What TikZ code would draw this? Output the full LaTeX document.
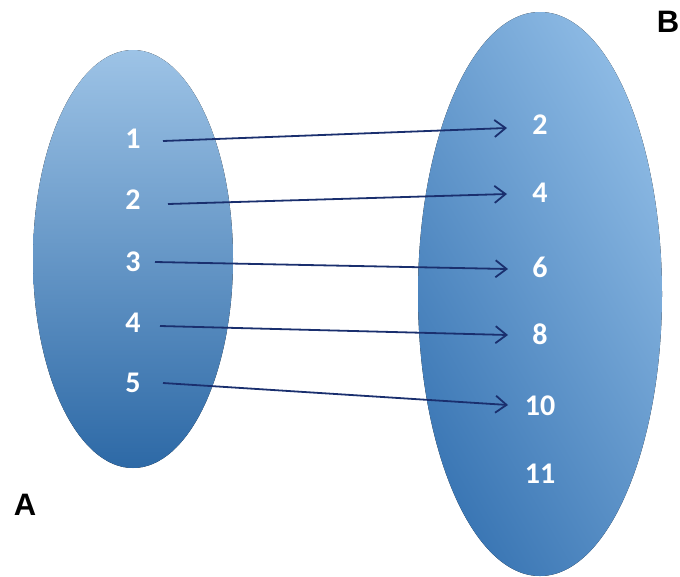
\documentclass[tikz,border=0pt]{standalone}
\usepackage{fontspec}
\setmainfont{Carlito}
\newfontfamily\arialf{Liberation Sans}
\usetikzlibrary{arrows.meta}
\definecolor{arrowc}{HTML}{1A2F6E}
\definecolor{lefttop}{HTML}{9DC3E6}
\definecolor{leftmid}{HTML}{6AA2DA}
\definecolor{leftbot}{HTML}{2D69A6}
\definecolor{rightlight}{HTML}{8DBAE4}
\definecolor{rightmid}{HTML}{5E9CD6}
\definecolor{rightdark}{HTML}{3A76B4}
\tikzset{
  num/.style={text=white, font=\fontsize{30}{30}\selectfont\bfseries, inner sep=0pt},
  setlbl/.style={text=black, font=\arialf\fontsize{31}{31}\selectfont\bfseries, inner sep=0pt},
  mapar/.style={draw=arrowc, line width=1.8pt, -{Straight Barb[length=11pt, width=17pt, line width=1.8pt]}, shorten <=0pt}
}
\begin{document}
\begin{tikzpicture}[x=1pt,y=-1pt]
\useasboundingbox (0,0) rectangle (680,576);
\fill[top color=lefttop, middle color=leftmid, bottom color=leftbot] (133,259) ellipse [x radius=100, y radius=209];
\fill[shading=axis, left color=rightlight, middle color=rightmid, right color=rightdark, shading angle=-60] (540,294) ellipse [x radius=122, y radius=282];
\node[num] (a1) at (133,139) {1};
\node[num] (a2) at (133,200) {2};
\node[num] (a3) at (133,262) {3};
\node[num] (a4) at (133,323) {4};
\node[num] (a5) at (133,383) {5};
\node[num] (b2) at (540,125) {2};
\node[num] (b4) at (540,193) {4};
\node[num] (b6) at (540,267) {6};
\node[num] (b8) at (540,334) {8};
\node[num] (b10) at (540,406) {10};
\node[num] (b11) at (540,474) {11};
\node[setlbl] (A) at (25,505) {A};
\node[setlbl] (B) at (668,22) {B};
\coordinate (s1) at (163,141); \coordinate (e1) at (507,128);
\coordinate (s2) at (168,204); \coordinate (e2) at (507,194);
\coordinate (s3) at (155,262); \coordinate (e3) at (508,269);
\coordinate (s4) at (160,326); \coordinate (e4) at (508,335);
\coordinate (s5) at (163,383); \coordinate (e5) at (508,405);
\draw[mapar] (s1) -- (e1);
\draw[mapar] (s2) -- (e2);
\draw[mapar] (s3) -- (e3);
\draw[mapar] (s4) -- (e4);
\draw[mapar] (s5) -- (e5);
\end{tikzpicture}
\end{document}
